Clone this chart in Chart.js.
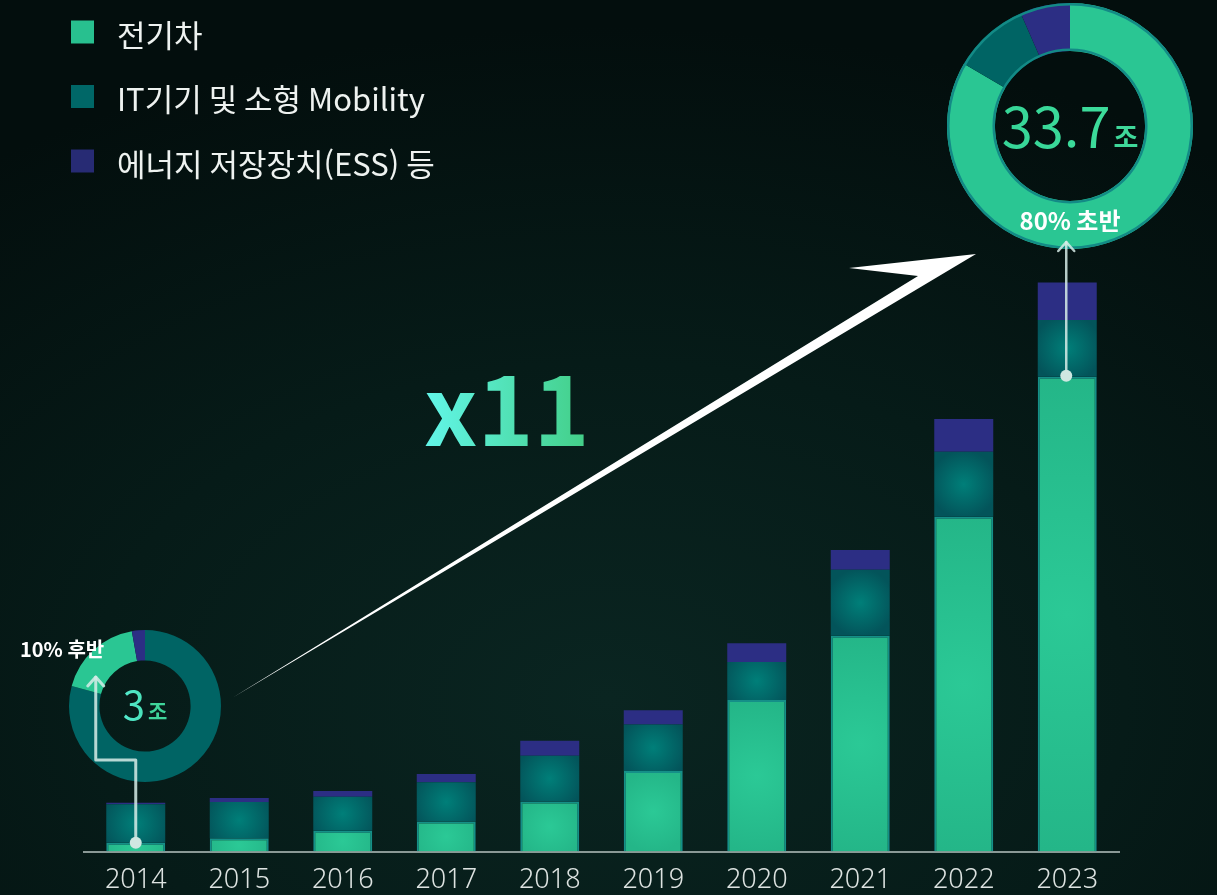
<!DOCTYPE html>
<html lang="ko">
<head>
<meta charset="utf-8">
<title>배터리 시장 규모</title>
<script src="https://cdn.jsdelivr.net/npm/chart.js@4.4.1/dist/chart.umd.min.js"></script>
<style>
  html, body { margin: 0; padding: 0; }
  body {
    width: 1217px; height: 895px; overflow: hidden;
    background: radial-gradient(ellipse 85% 75% at 50% 78%, #0a2521 0%, #061b18 50%, #030e0d 100%);
  }
  #wrap { position: relative; width: 1217px; height: 895px; }
  canvas { position: absolute; }
  #mainChart { left: 0; top: 0; z-index: 2; }
  #bigDonut { left: 944px; top: 0; z-index: 1; }
  #smallDonut { left: 66px; top: 627px; z-index: 1; }
</style>
</head>
<body>
<div id="wrap">
  <canvas id="smallDonut" width="158" height="158"></canvas>
  <canvas id="bigDonut" width="252" height="252"></canvas>
  <canvas id="mainChart" width="1217" height="895"></canvas>
</div>
<script>
// values in 조 (trillion won)
const years = ["2014", "2015", "2016", "2017", "2018", "2019", "2020", "2021", "2022", "2023"];
const evValues  = [0.52, 0.79, 1.24, 1.78, 2.96, 4.77, 8.98, 12.78, 19.82, 28.11];
const itValues  = [2.29, 2.15, 2.01, 2.33, 2.72, 2.75, 2.25, 3.91, 3.85, 3.37];
const essValues = [0.08, 0.24, 0.34, 0.49, 0.89, 0.85, 1.11, 1.17, 1.94, 2.21];
const seriesNames = ["전기차", "IT기기 및 소형 Mobility", "에너지 저장장치(ESS) 등"];
const startTotal = "3";
const endTotal = "33.7";
const unitLabel = "조";
const startShare = "10% 후반";
const endShare = "80% 초반";
const growthLabel = "x11";

const FONT = "'Noto Sans CJK KR', 'Noto Sans', sans-serif";
const EV = "#28c08f", IT = "#006767", ESS = "#2c2e84";

Chart.defaults.font.family = FONT;

// radial glow per stacked segment, centred on the segment
function glow(inner, outer) {
  return c => {
    if (c.type !== "data") return outer;
    const chart = c.chart, xs = chart.scales.x, ys = chart.scales.y;
    if (!xs || !ys) return outer;
    const i = c.dataIndex;
    let base = 0;
    for (let d = 0; d < c.datasetIndex; d++) base += chart.data.datasets[d].data[i];
    const v = chart.data.datasets[c.datasetIndex].data[i];
    const cx = xs.getPixelForValue(i);
    const y0 = ys.getPixelForValue(base), y1 = ys.getPixelForValue(base + v);
    if (![cx, y0, y1].every(Number.isFinite)) return outer;
    const cy = (y0 + y1) / 2;
    const r = Math.max(34, Math.abs(y0 - y1) / 2);
    const g = chart.ctx.createRadialGradient(cx, cy, 0, cx, cy, r);
    g.addColorStop(0, inner);
    g.addColorStop(1, outer);
    return g;
  };
}

function chevron(ctx, x, y) {
  ctx.beginPath();
  ctx.moveTo(x - 8, y + 9);
  ctx.lineTo(x, y);
  ctx.lineTo(x + 8, y + 9);
  ctx.stroke();
}

const overlay = {
  id: "overlay",
  afterDraw(chart) {
    const ctx = chart.ctx;
    const xs = chart.scales.x, ys = chart.scales.y;
    ctx.save();

    // legend
    chart.data.datasets.forEach((ds, i) => {
      const baseline = 46.5 + i * 64.5;
      ctx.fillStyle = ds.legendColor;
      ctx.fillRect(71, baseline - 26, 23, 23);
      ctx.fillStyle = "#eef2f0";
      ctx.font = `31px ${FONT}`;
      ctx.textBaseline = "alphabetic";
      ctx.textAlign = "left";
      ctx.fillText(ds.label, 117, baseline);
    });

    // big growth arrow
    ctx.fillStyle = "#ffffff";
    ctx.beginPath();
    ctx.moveTo(232, 698);
    ctx.lineTo(918, 276);
    ctx.lineTo(849, 268);
    ctx.lineTo(976, 254);
    ctx.closePath();
    ctx.fill();

    // x11
    const g = ctx.createLinearGradient(425, 0, 585, 0);
    g.addColorStop(0, "#62f6e9");
    g.addColorStop(1, "#43cf88");
    ctx.fillStyle = g;
    ctx.font = `bold 95px ${FONT}`;
    ctx.fillText(growthLabel, 424, 446);

    // connectors from the 전기차 segments to the doughnuts
    ctx.strokeStyle = "rgba(214,236,231,0.85)";
    ctx.fillStyle = "#cfe7e1";
    ctx.lineCap = "round";
    ctx.lineJoin = "round";

    const x0 = xs.getPixelForValue(0), y0 = ys.getPixelForValue(evValues[0]);
    ctx.lineWidth = 3;
    ctx.beginPath();
    ctx.moveTo(x0, y0);
    ctx.lineTo(x0, 760);
    ctx.lineTo(x0 - 40, 760);
    ctx.lineTo(x0 - 40, 677);
    ctx.stroke();
    chevron(ctx, x0 - 40, 677);
    ctx.beginPath();
    ctx.arc(x0, y0, 6, 0, Math.PI * 2);
    ctx.fill();

    const last = years.length - 1;
    const x9 = xs.getPixelForValue(last) - 1, y9 = ys.getPixelForValue(evValues[last]) - 1;
    ctx.lineWidth = 2.5;
    ctx.beginPath();
    ctx.moveTo(x9, y9);
    ctx.lineTo(x9, 242);
    ctx.stroke();
    chevron(ctx, x9, 242);
    ctx.beginPath();
    ctx.arc(x9, y9, 6, 0, Math.PI * 2);
    ctx.fill();

    // small doughnut share label
    ctx.fillStyle = "#ffffff";
    ctx.font = `bold 20px ${FONT}`;
    ctx.fillText(startShare, 20, 657);

    ctx.restore();
  }
};

new Chart(document.getElementById("mainChart"), {
  type: "bar",
  data: {
    labels: years,
    datasets: [
      { label: seriesNames[0], data: evValues, legendColor: EV,
        backgroundColor: glow("#2bc996", "#24b688"), borderColor: "#158f88", borderWidth: 2 },
      { label: seriesNames[1], data: itValues, legendColor: IT,
        backgroundColor: glow("#007f79", "#03545a"), borderWidth: 0 },
      { label: seriesNames[2], data: essValues, legendColor: "#272b74",
        backgroundColor: ESS, borderWidth: 0 }
    ]
  },
  options: {
    responsive: false,
    animation: false,
    devicePixelRatio: 1,
    datasets: { bar: { categoryPercentage: 1, barPercentage: 0.57 } },
    layout: { padding: { left: 84, right: 98, top: 176, bottom: -15 } },
    plugins: { legend: { display: false }, tooltip: { enabled: false } },
    scales: {
      x: {
        stacked: true,
        grid: { display: false, drawTicks: false },
        border: { display: true, color: "#8a9996", width: 2 },
        ticks: { color: "#dde3e1", font: { family: "'Noto Sans', sans-serif", size: 27, weight: 300 }, padding: 13 }
      },
      y: { stacked: true, display: false, min: 0, max: 40 }
    }
  },
  plugins: [overlay]
});

function ringOutline(color, width) {
  return {
    id: "ringOutline",
    afterDatasetsDraw(chart) {
      const arc = chart.getDatasetMeta(0).data[0];
      if (!arc || !width) return;
      const ctx = chart.ctx;
      ctx.save();
      ctx.strokeStyle = color;
      ctx.lineWidth = width;
      ctx.beginPath();
      ctx.arc(arc.x, arc.y, arc.outerRadius - width / 2, 0, Math.PI * 2);
      ctx.stroke();
      ctx.beginPath();
      ctx.arc(arc.x, arc.y, arc.innerRadius + width / 2, 0, Math.PI * 2);
      ctx.stroke();
      ctx.restore();
    }
  };
}

function centreText(big, bigSize, unitSize, baseline, colors) {
  return {
    id: "centreText",
    afterDraw(chart) {
      const arc = chart.getDatasetMeta(0).data[0];
      const ctx = chart.ctx;
      ctx.save();
      ctx.textBaseline = "alphabetic";
      ctx.textAlign = "left";
      ctx.font = `${bigSize}px ${FONT}`;
      const w1 = ctx.measureText(big).width;
      ctx.font = `bold ${unitSize}px ${FONT}`;
      const w2 = ctx.measureText(unitLabel).width;
      const left = arc.x - (w1 + w2 + 3) / 2;
      const g = ctx.createLinearGradient(left, 0, left + w1, 0);
      g.addColorStop(0, colors[0]);
      g.addColorStop(1, colors[1]);
      ctx.fillStyle = g;
      ctx.font = `${bigSize}px ${FONT}`;
      ctx.fillText(big, left, baseline);
      ctx.fillStyle = colors[2];
      ctx.font = `bold ${unitSize}px ${FONT}`;
      ctx.fillText(unitLabel, left + w1 + 3, baseline - 1);
      ctx.restore();
    }
  };
}

const shareLabel = {
  id: "shareLabel",
  afterDraw(chart) {
    const arc = chart.getDatasetMeta(0).data[0];
    const ctx = chart.ctx;
    ctx.save();
    ctx.fillStyle = "#ffffff";
    ctx.font = `bold 24px ${FONT}`;
    ctx.textAlign = "center";
    ctx.textBaseline = "alphabetic";
    ctx.fillText(endShare, arc.x, 230);
    ctx.restore();
  }
};

const donutOptions = cut => ({
  responsive: false,
  animation: false,
  devicePixelRatio: 1,
  cutout: cut,
  layout: { padding: 3 },
  plugins: { legend: { display: false }, tooltip: { enabled: false } }
});

const last = years.length - 1;
new Chart(document.getElementById("bigDonut"), {
  type: "doughnut",
  data: {
    labels: seriesNames,
    datasets: [{
      data: [evValues[last], itValues[last], essValues[last]],
      backgroundColor: ["#2ac693", "#006464", ESS],
      borderWidth: 0
    }]
  },
  options: donutOptions("61%"),
  plugins: [ringOutline("#138a86", 2.5), centreText(endTotal, 56, 27, 148, ["#36d597", "#3ddc9b", "#3fd89a"]), shareLabel]
});

new Chart(document.getElementById("smallDonut"), {
  type: "doughnut",
  data: {
    labels: [seriesNames[1], seriesNames[0], seriesNames[2]],
    datasets: [{
      data: [itValues[0], evValues[0], essValues[0]],
      backgroundColor: ["#006464", "#2ac693", ESS],
      borderWidth: 0
    }]
  },
  options: donutOptions("60%"),
  plugins: [centreText(startTotal, 40, 21, 93, ["#55ebd0", "#48e0b6", "#3fd69b"])]
});
</script>
</body>
</html>
